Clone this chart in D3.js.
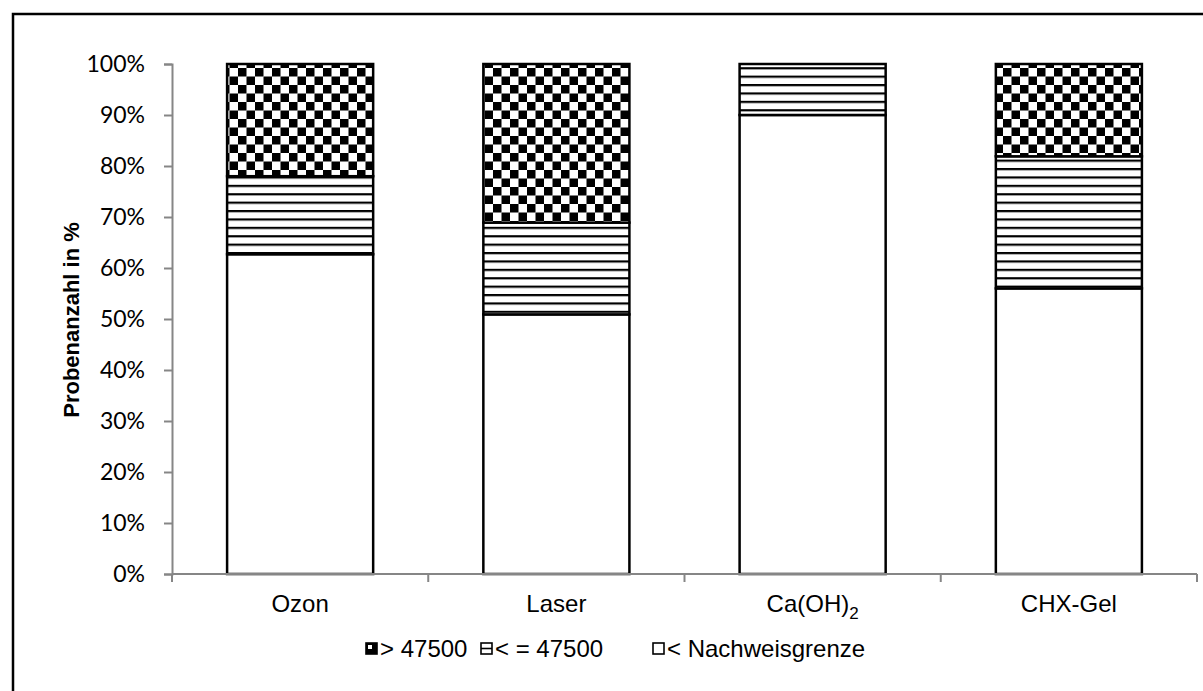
<!DOCTYPE html>
<html>
<head>
<meta charset="utf-8">
<script src="https://cdn.jsdelivr.net/npm/d3@7"></script>
<style>
  body { margin: 0; background: #fff; }
  .ytick text { font-family: Lato, "Open Sans", sans-serif; font-size: 23px; fill: #000; }
  .xlab { font-family: "Liberation Sans", Arial, sans-serif; font-size: 24px; fill: #000; }
  .leg { font-family: "Liberation Sans", Arial, sans-serif; font-size: 24px; fill: #000; }
</style>
</head>
<body>
<div class="grafico"></div>
<script>
/* Datos */
const categories = ['Ozon', 'Laser', 'Ca(OH)2', 'CHX-Gel']
const unterNachweis = [62.7, 50.9, 90.0, 56.0]
const bisGrenze = [15.3, 18.0, 10.0, 25.9]
const ueberGrenze = [22.0, 31.1, 0.0, 18.1]
const seriesNames = ['> 47500', '< = 47500', '< Nachweisgrenze']
const yTicks = [0, 10, 20, 30, 40, 50, 60, 70, 80, 90, 100]

const w = 1203
const h = 691

const svg = d3.select('.grafico')
  .append('svg')
  .attr('width', w)
  .attr('height', h)

/* Patrones */
const defs = svg.append('defs')
const checker = defs.append('pattern')
  .attr('id', 'checker')
  .attr('patternUnits', 'userSpaceOnUse')
  .attr('width', 17).attr('height', 17)
checker.append('rect').attr('width', 17).attr('height', 17).attr('fill', '#fff')
checker.append('rect').attr('width', 8.5).attr('height', 8.5).attr('fill', '#000')
checker.append('rect').attr('x', 8.5).attr('y', 8.5).attr('width', 8.5).attr('height', 8.5).attr('fill', '#000')

const stripes = defs.append('pattern')
  .attr('id', 'stripes')
  .attr('patternUnits', 'userSpaceOnUse')
  .attr('width', 8).attr('height', 8.4)
stripes.append('rect').attr('width', 8).attr('height', 8.4).attr('fill', '#fff')
stripes.append('rect').attr('y', 0).attr('width', 8).attr('height', 2.2).attr('fill', '#000')

/* Marco */
svg.append('rect')
  .attr('x', 13).attr('y', 14)
  .attr('width', 1200).attr('height', 700)
  .attr('fill', 'none')
  .attr('stroke', '#000')
  .attr('stroke-width', 2.5)

/* Escalas */
const x = d3.scaleBand()
  .domain(categories)
  .range([172, 1197])
  .paddingInner(0.43)
  .paddingOuter(0.215)

const y = d3.scaleLinear()
  .domain([0, 100])
  .range([574, 64])

/* Eje Y */
const yAxis = d3.axisLeft(y)
  .tickValues(yTicks)
  .tickSize(8)
  .tickPadding(19)
  .tickFormat(d => d + '%')

svg.append('g')
  .attr('class', 'ytick')
  .attr('transform', 'translate(172,0)')
  .call(yAxis)
  .call(g => g.select('.domain').attr('stroke', '#868686').attr('stroke-width', 2))
  .call(g => g.selectAll('.tick line').attr('stroke', '#868686').attr('stroke-width', 2))

svg.append('text')
  .attr('transform', 'translate(79,320) rotate(-90)')
  .attr('text-anchor', 'middle')
  .style('font-family', '"Liberation Sans", Arial, sans-serif')
  .style('font-size', '22px')
  .style('font-weight', 'bold')
  .text('Probenanzahl in %')

/* Barras apiladas */
const rows = categories.map((c, i) => ({
  cat: c, a: unterNachweis[i], b: bisGrenze[i], c: ueberGrenze[i]
}))
const stack = d3.stack().keys(['a', 'b', 'c'])(rows)
const fills = { a: '#fff', b: 'url(#stripes)', c: 'url(#checker)' }

svg.append('g')
  .selectAll('g')
  .data(stack)
  .join('g')
  .attr('fill', s => fills[s.key])
  .selectAll('rect')
  .data(s => s.filter(d => d[1] - d[0] > 0))
  .join('rect')
  .attr('x', d => x(d.data.cat))
  .attr('width', x.bandwidth())
  .attr('y', d => y(d[1]))
  .attr('height', d => y(d[0]) - y(d[1]))
  .attr('stroke', '#000')
  .attr('stroke-width', 2.5)

/* Eje X */
const xEdges = [0, 1, 2, 3, 4].map(i => 172 + i * x.step())
svg.append('line')
  .attr('x1', 172).attr('x2', 1197)
  .attr('y1', 574).attr('y2', 574)
  .attr('stroke', '#868686').attr('stroke-width', 2)
svg.append('g')
  .selectAll('line')
  .data(xEdges)
  .join('line')
  .attr('x1', d => d).attr('x2', d => d)
  .attr('y1', 574).attr('y2', 582)
  .attr('stroke', '#868686').attr('stroke-width', 2)

const labs = svg.append('g')
  .selectAll('text')
  .data(categories)
  .join('text')
  .attr('class', 'xlab')
  .attr('x', d => x(d) + x.bandwidth() / 2)
  .attr('y', 612)
  .attr('text-anchor', 'middle')
labs.each(function (d) {
  const t = d3.select(this)
  const m = d.match(/^(.*?)(\d)$/)
  if (m && d.includes('(')) {
    t.append('tspan').text(m[1])
    t.append('tspan').attr('dy', 7).style('font-size', '17px').text(m[2])
  } else {
    t.text(d)
  }
})

/* Leyenda */
const legX = [366, 481, 653]
const legend = svg.append('g')
legend.selectAll('rect')
  .data(seriesNames)
  .join('rect')
  .attr('x', (d, i) => legX[i])
  .attr('y', 643)
  .attr('width', 11).attr('height', 11)
  .attr('fill', '#fff')
  .attr('stroke', '#000')
  .attr('stroke-width', 1.6)
/* iconos pequeños */
legend.append('rect').attr('x', legX[0]).attr('y', 643).attr('width', 11).attr('height', 11).attr('fill', '#000')
legend.append('rect').attr('x', legX[0] + 2).attr('y', 645).attr('width', 4).attr('height', 4).attr('fill', '#fff')
legend.append('line').attr('x1', legX[1]).attr('x2', legX[1] + 11).attr('y1', 648.5).attr('y2', 648.5).attr('stroke', '#000').attr('stroke-width', 1.6)
legend.selectAll('text')
  .data(seriesNames)
  .join('text')
  .attr('class', 'leg')
  .attr('x', (d, i) => legX[i] + 14)
  .attr('y', 657)
  .text(d => d)
</script>
</body>
</html>
